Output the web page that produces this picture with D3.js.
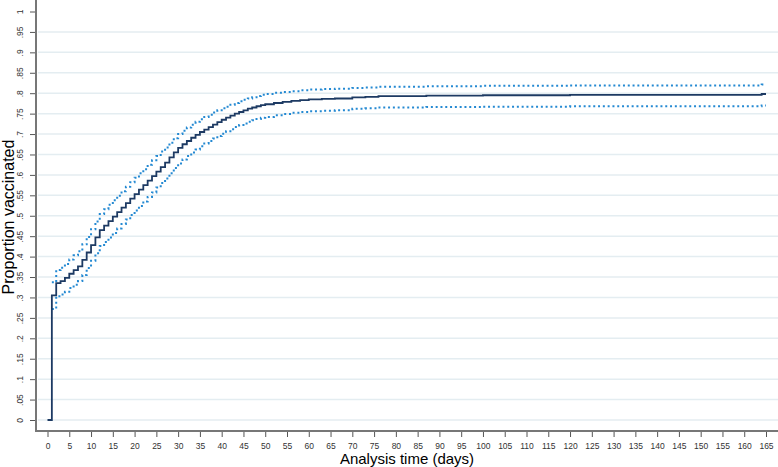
<!DOCTYPE html>
<html>
<head>
<meta charset="utf-8">
<script src="https://cdn.jsdelivr.net/npm/d3@7"></script>
<style>
  body { margin: 0; background: #fff; }
  text { font-family: "Liberation Sans", Arial, sans-serif; }
</style>
</head>
<body>
<svg id="chart" width="778" height="467"></svg>
<script>

// analysis time (days) at which the estimate changes
var times = [0, 1, 2, 3, 4, 5, 6, 7, 8, 9, 10,
    11, 12, 13, 14, 15, 16, 17, 18, 19, 20,
    21, 22, 23, 24, 25, 26, 27, 28, 29, 30,
    31, 32, 33, 34, 35, 36, 37, 38, 39, 40,
    41, 42, 43, 44, 45, 46, 47, 48, 49, 50,
    52, 54, 56, 58, 60, 63, 66, 70, 73, 76, 80, 87, 100, 120, 164, 165];

// proportion vaccinated (Kaplan-Meier failure)
var estimate = [0, .305, .335, .340, .348, .358, .367, .376, .392, .410, .428,
    .447, .465, .476, .487, .498, .509, .520, .531, .542, .553,
    .564, .575, .586, .597, .608, .619, .630, .643, .655, .666,
    .675, .683, .691, .698, .705, .711, .717, .723, .729, .735,
    .740, .745, .750, .754, .758, .762, .765, .768, .771, .773,
    .776, .779, .781, .783, .785, .786, .787, .790, .791, .793, .793, .794, .795, .796, .798, .798];

var upper = [null, .337, .367, .373, .382, .393, .403, .413, .430, .448, .467,
    .486, .504, .516, .527, .538, .549, .560, .571, .582, .593,
    .604, .614, .625, .636, .646, .657, .667, .679, .690, .700,
    .708, .716, .723, .730, .736, .742, .747, .753, .758, .763,
    .767, .772, .776, .780, .784, .787, .790, .793, .796, .798,
    .801, .803, .805, .807, .809, .810, .811, .813, .814, .816, .816, .817, .818, .819, .821, .821];

var lower = [null, .272, .303, .307, .314, .323, .331, .340, .355, .372, .390,
    .408, .426, .436, .447, .458, .469, .480, .491, .502, .513,
    .524, .535, .546, .557, .569, .580, .591, .604, .617, .628,
    .638, .646, .655, .662, .670, .677, .683, .689, .695, .701,
    .707, .712, .717, .722, .726, .730, .734, .737, .740, .742,
    .746, .749, .752, .754, .756, .757, .758, .762, .763, .765, .765, .766, .767, .768, .770, .770];

var xTicks = d3.range(0, 166, 5);
var yTicks = d3.range(0, 1.001, 0.05).map(function(v) { return +v.toFixed(2); });

var svg = d3.select('#chart');

var xScale = d3.scaleLinear().domain([0, 165]).range([47.5, 766]);
var yScale = d3.scaleLinear().domain([0, 1]).range([420, 11.5]);

var axisX = 36, axisY = 431;

// stata style labels: .05, .1 ... 0 and 1
var fmtY = function(v) {
    if (v === 0) return '0';
    if (v === 1) return '1';
    return String(v).replace(/^0/, '');
};

// grid
svg.append('g')
    .selectAll('line')
    .data(yTicks.filter(function(v) { return v < 1; }))
    .enter()
        .append('line')
        .attr('x1', axisX + 2)
        .attr('x2', 778)
        .attr('y1', function(d) { return yScale(d); })
        .attr('y2', function(d) { return yScale(d); })
        .attr('stroke', '#e4edf1')
        .attr('stroke-width', 1.5);

// y axis
var gy = svg.append('g')
    .attr('transform', 'translate(' + axisX + ',0)')
    .call(d3.axisLeft(yScale).tickValues(yTicks).tickSize(6).tickFormat(fmtY));
gy.select('.domain').remove();
gy.selectAll('.tick line').attr('stroke', '#555').attr('stroke-width', 1);
gy.selectAll('.tick text')
    .attr('font-size', 8.5)
    .attr('fill', '#333')
    .attr('transform', 'rotate(-90)')
    .attr('text-anchor', 'middle')
    .attr('x', 0)
    .attr('y', -16)
    .attr('dy', '0.35em');

// x axis
var gx = svg.append('g')
    .attr('transform', 'translate(0,' + axisY + ')')
    .call(d3.axisBottom(xScale).tickValues(xTicks).tickSize(6).tickPadding(6));
gx.select('.domain').remove();
gx.selectAll('.tick line').attr('stroke', '#555').attr('stroke-width', 1);
gx.selectAll('.tick text').attr('font-size', 8.5).attr('fill', '#333');

// axis lines
svg.append('line')
    .attr('x1', axisX).attr('x2', axisX)
    .attr('y1', 0).attr('y2', axisY + 1)
    .attr('stroke', '#777').attr('stroke-width', 2);
svg.append('line')
    .attr('x1', axisX - 1).attr('x2', 778)
    .attr('y1', axisY).attr('y2', axisY)
    .attr('stroke', '#777').attr('stroke-width', 2);

// titles
svg.append('text')
    .attr('transform', 'translate(14,217) rotate(-90)')
    .attr('text-anchor', 'middle')
    .attr('font-size', 16)
    .attr('fill', '#000')
    .text('Proportion vaccinated');

svg.append('text')
    .attr('x', 407)
    .attr('y', 464)
    .attr('text-anchor', 'middle')
    .attr('font-size', 15)
    .attr('fill', '#000')
    .text('Analysis time (days)');

var stepLine = function(vals) {
    return d3.line()
        .defined(function(d, i) { return vals[i] != null; })
        .x(function(d) { return xScale(d); })
        .y(function(d, i) { return yScale(vals[i]); })
        .curve(d3.curveStepAfter)(times);
};

// confidence bands
[upper, lower].forEach(function(vals) {
    svg.append('path')
        .attr('d', stepLine(vals))
        .attr('fill', 'none')
        .attr('stroke', '#2489d2')
        .attr('stroke-width', 2)
        .attr('stroke-dasharray', '2,2.8');
});

// estimate
svg.append('path')
    .attr('d', stepLine(estimate))
    .attr('fill', 'none')
    .attr('stroke', '#1d3a63')
    .attr('stroke-width', 1.8);

</script>
</body>
</html>
